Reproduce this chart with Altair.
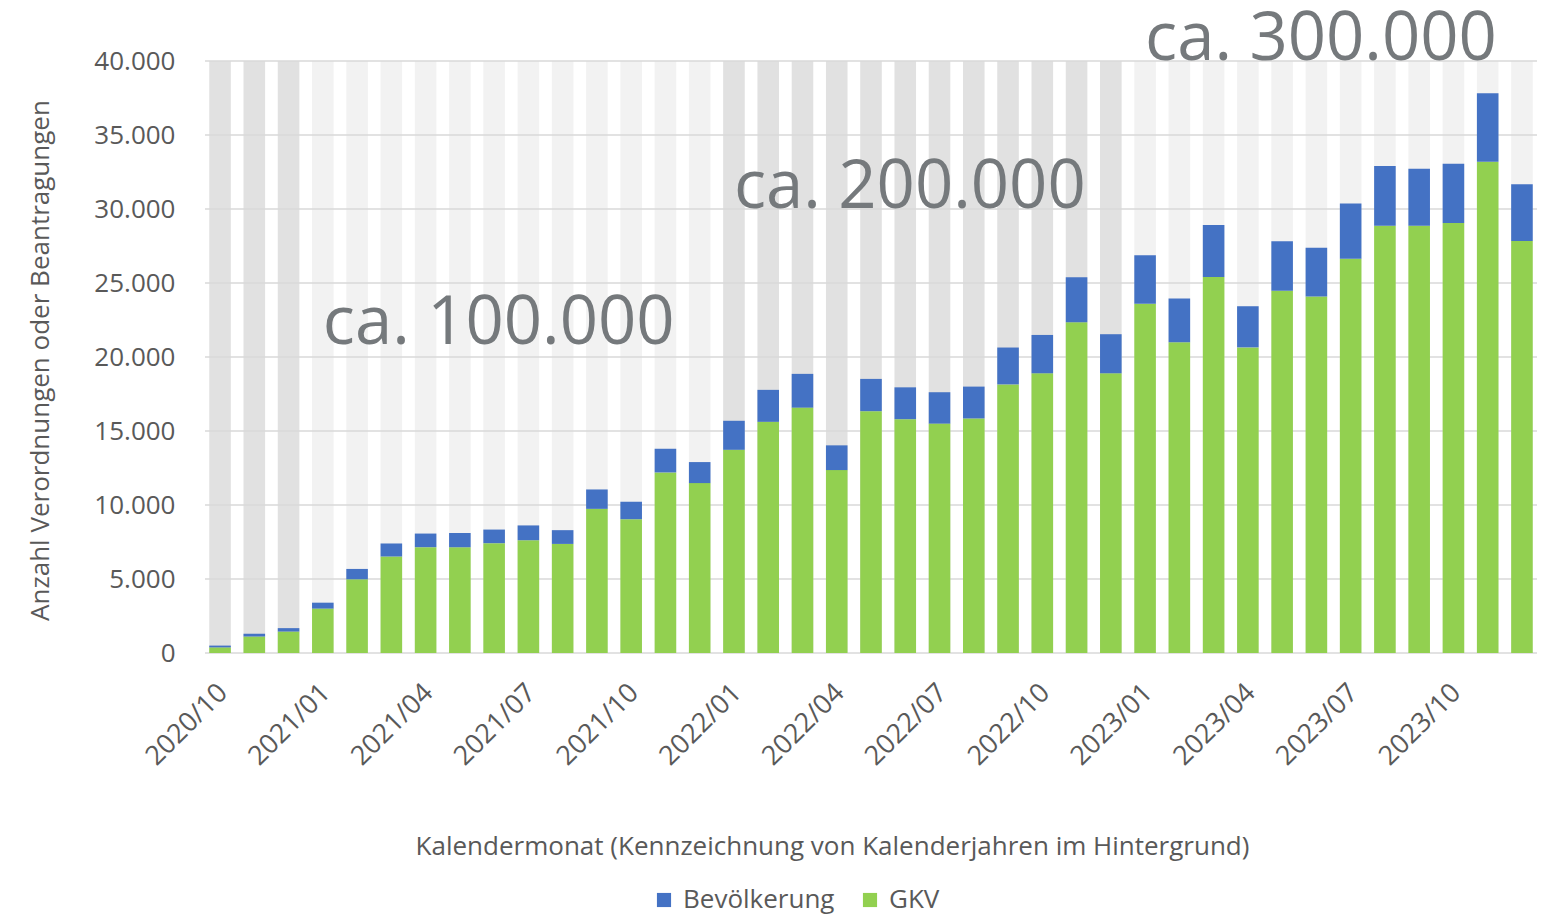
import altair as alt
import pandas as pd

months = [
    "2020/10", "2020/11", "2020/12",
    "2021/01", "2021/02", "2021/03", "2021/04", "2021/05", "2021/06",
    "2021/07", "2021/08", "2021/09", "2021/10", "2021/11", "2021/12",
    "2022/01", "2022/02", "2022/03", "2022/04", "2022/05", "2022/06",
    "2022/07", "2022/08", "2022/09", "2022/10", "2022/11", "2022/12",
    "2023/01", "2023/02", "2023/03", "2023/04", "2023/05", "2023/06",
    "2023/07", "2023/08", "2023/09", "2023/10", "2023/11", "2023/12",
]
gkv = [
    380, 1120, 1450,
    3000, 4980, 6520, 7150, 7150, 7420,
    7620, 7370, 9740, 9040, 12200, 11480,
    13730, 15620, 16580, 12360, 16340, 15800,
    15500, 15850, 18150, 18900, 22340, 18900,
    23600, 21000, 25400, 20650, 24480, 24080,
    26640, 28870, 28870, 29050, 33200, 27840,
]
bevoelkerung = [
    120, 180, 230,
    400, 700, 880, 920, 950, 920,
    1000, 930, 1310, 1180, 1600, 1420,
    1960, 2160, 2280, 1670, 2180, 2150,
    2120, 2150, 2490, 2590, 3050, 2640,
    3270, 2950, 3520, 2780, 3340, 3310,
    3740, 4030, 3850, 4010, 4620, 3830,
]
tick_months = ["2020/10", "2021/01", "2021/04", "2021/07", "2021/10", "2022/01",
               "2022/04", "2022/07", "2022/10", "2023/01", "2023/04", "2023/07", "2023/10"]
y_ticks = [0, 5000, 10000, 15000, 20000, 25000, 30000, 35000, 40000]
series_names = ["Bevölkerung", "GKV"]
series_colors = ["#4472C4", "#92D050"]

annot_text = ["ca. 100.000", "ca. 200.000", "ca. 300.000"]
annot_month = ["2021/01", "2022/01", "2023/01"]
annot_level = [20900, 30100, 40100]

Y_MAX = 40000

bars = pd.DataFrame(
    [{"month": m, "series": "GKV", "value": g, "ord": 0} for m, g in zip(months, gkv)]
    + [{"month": m, "series": "Bevölkerung", "value": b, "ord": 1} for m, b in zip(months, bevoelkerung)]
)
stripes = pd.DataFrame({"month": months, "year": [int(m[:4]) for m in months]})
grid = pd.DataFrame({"value": y_ticks})
annots = pd.DataFrame({"text": annot_text, "month": annot_month, "value": annot_level})

FONT = "Open Sans"
TXT = "#595959"

x_enc = alt.X(
    "month:N",
    sort=months,
    scale=alt.Scale(domain=months, paddingInner=0.37, paddingOuter=0.124),
    axis=alt.Axis(
        values=tick_months,
        labelAngle=-45,
        labelFontSize=27,
        labelFont=FONT,
        labelColor=TXT,
        labelPadding=26,
        labelOffset=-6,
        ticks=False,
        domain=False,
        grid=False,
        title="Kalendermonat (Kennzeichnung von Kalenderjahren im Hintergrund)",
        titleFont=FONT,
        titleFontSize=26,
        titleFontWeight="normal",
        titleColor=TXT,
        titleX=627,
        titleY=201,
        titleBaseline="alphabetic",
    ),
)
y_scale = alt.Scale(domain=[0, Y_MAX], nice=False)
y_axis = alt.Axis(
    values=y_ticks,
    labelExpr="replace(format(datum.value, ','), ',', '.')",
    labelFontSize=26,
    labelFont=FONT,
    labelColor=TXT,
    labelPadding=30,
    ticks=False,
    domain=False,
    grid=False,
    title="Anzahl Verordnungen oder Beantragungen",
    titleFont=FONT,
    titleFontSize=26,
    titleFontWeight="normal",
    titleColor=TXT,
    titleX=-165,
    titleY=299,
    titleAngle=-90,
    titleAlign="center",
    titleBaseline="middle",
)

stripe_layer = alt.Chart(stripes).mark_bar().encode(
    x=x_enc,
    y=alt.Y(datum=Y_MAX, scale=y_scale, axis=y_axis),
    y2=alt.Y2(datum=0),
    color=alt.condition("datum.year % 2 == 0", alt.value("#e1e1e1"), alt.value("#f2f2f2")),
)

grid_layer = alt.Chart(grid).mark_rule(color="#d9d9d9", strokeWidth=1.6).encode(
    y=alt.Y("value:Q", scale=y_scale, axis=y_axis),
)

bar_layer = alt.Chart(bars).mark_bar().encode(
    x=x_enc,
    y=alt.Y("value:Q", stack="zero", scale=y_scale, axis=y_axis),
    color=alt.Color(
        "series:N",
        scale=alt.Scale(domain=series_names, range=series_colors),
        legend=alt.Legend(
            title=None,
            orient="none",
            direction="horizontal",
            legendX=446,
            legendY=826,
            symbolType="square",
            symbolSize=200,
            symbolStrokeWidth=0,
            labelFont=FONT,
            labelFontSize=26,
            labelColor=TXT,
            columnPadding=22,
            symbolOffset=0,
            labelOffset=6,
        ),
    ),
    order=alt.Order("ord:Q", sort="ascending"),
)

text_layer = alt.Chart(annots).mark_text(
    align="left", baseline="alphabetic", font=FONT, fontSize=67, color="#75797c", dx=0
).encode(
    x=x_enc,
    y=alt.Y("value:Q", scale=y_scale, axis=y_axis),
    text="text:N",
)

chart = (
    alt.layer(stripe_layer, grid_layer, bar_layer, text_layer)
    .properties(
        width=1332,
        height=592,
        autosize=alt.AutoSizeParams(type="none"),
        padding={"left": 197, "top": 53, "right": 17, "bottom": 262},
        background="white",
    )
    .configure_view(stroke=None)
)

chart.save("out.html", embed_options={"renderer": "svg", "actions": False})
